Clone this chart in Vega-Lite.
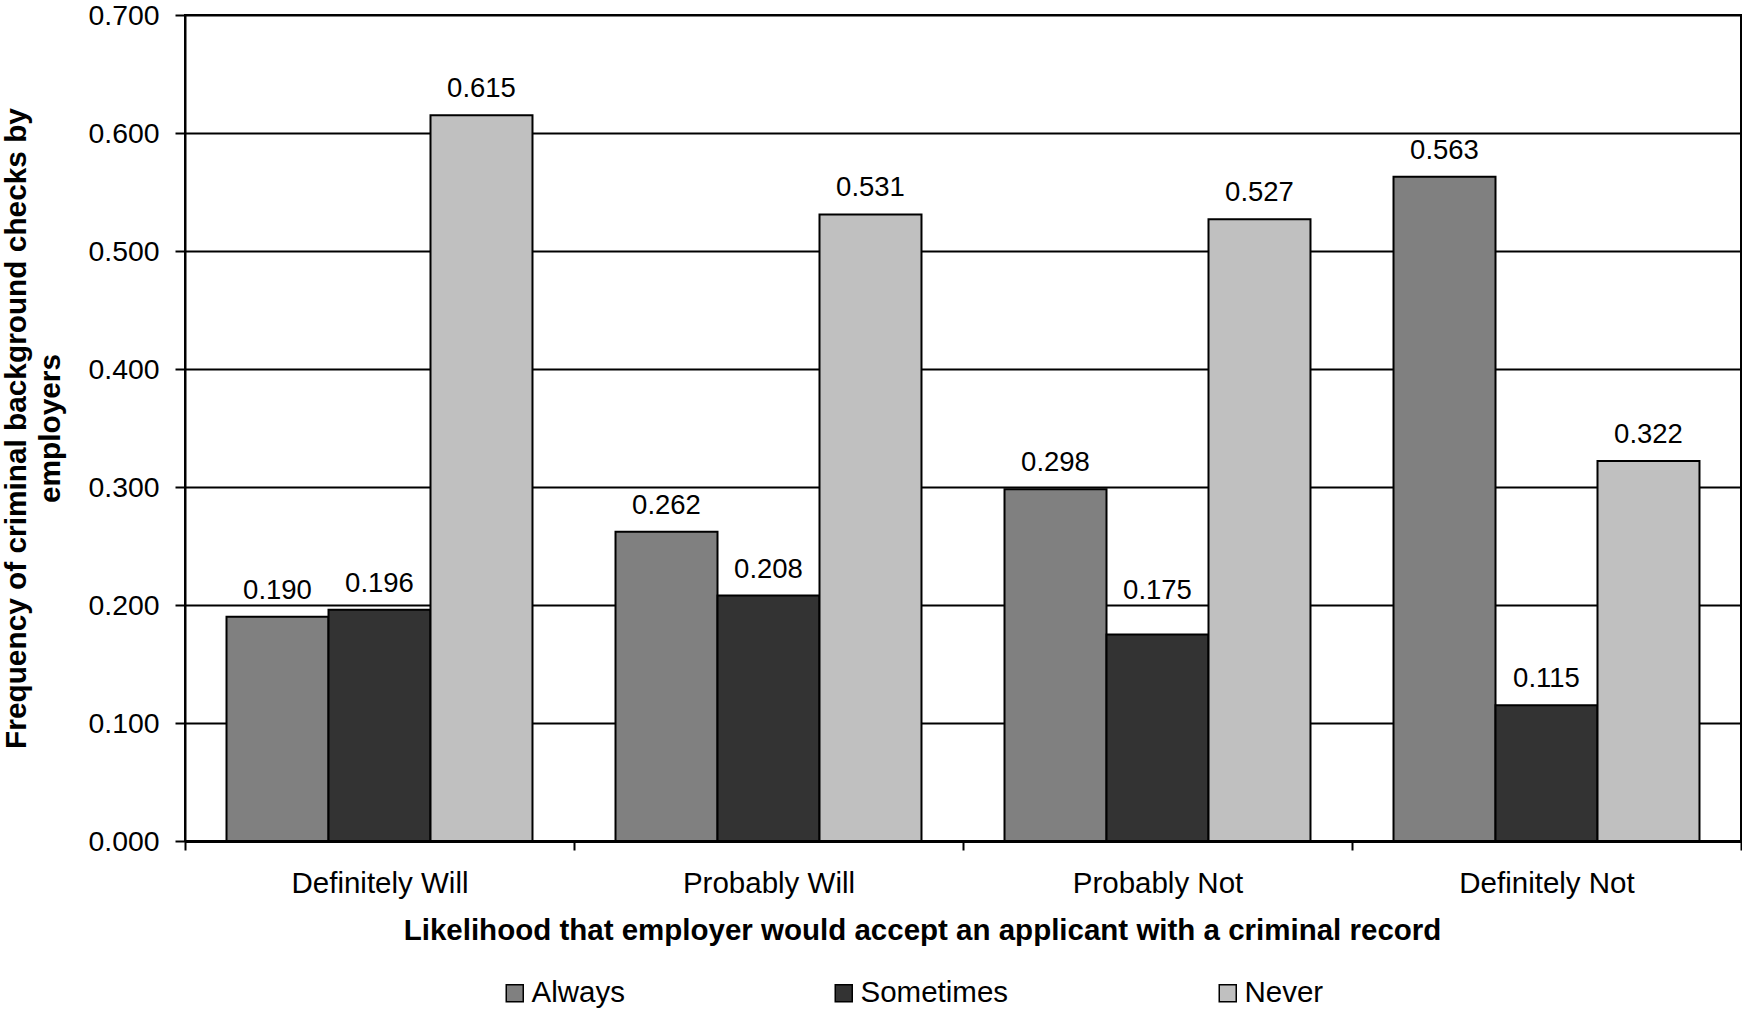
{
  "$schema": "https://vega.github.io/schema/vega-lite/v6.json",
  "width": 1556,
  "height": 826,
  "autosize": {"type": "none"},
  "padding": {"left": 185, "top": 15, "right": 1, "bottom": 170},
  "background": "white",
  "config": {
    "font": "Liberation Sans",
    "view": {"stroke": "black", "strokeWidth": 2}
  },
  "data": {
    "values": [
      {"likelihood": "Definitely Will", "frequency": "Always", "value": 0.190},
      {"likelihood": "Definitely Will", "frequency": "Sometimes", "value": 0.196},
      {"likelihood": "Definitely Will", "frequency": "Never", "value": 0.615},
      {"likelihood": "Probably Will", "frequency": "Always", "value": 0.262},
      {"likelihood": "Probably Will", "frequency": "Sometimes", "value": 0.208},
      {"likelihood": "Probably Will", "frequency": "Never", "value": 0.531},
      {"likelihood": "Probably Not", "frequency": "Always", "value": 0.298},
      {"likelihood": "Probably Not", "frequency": "Sometimes", "value": 0.175},
      {"likelihood": "Probably Not", "frequency": "Never", "value": 0.527},
      {"likelihood": "Definitely Not", "frequency": "Always", "value": 0.563},
      {"likelihood": "Definitely Not", "frequency": "Sometimes", "value": 0.115},
      {"likelihood": "Definitely Not", "frequency": "Never", "value": 0.322}
    ]
  },
  "encoding": {
    "x": {
      "field": "likelihood",
      "type": "nominal",
      "sort": ["Definitely Will", "Probably Will", "Probably Not", "Definitely Not"],
      "scale": {"paddingInner": 0, "paddingOuter": 0},
      "title": "Likelihood that employer would accept an applicant with a criminal record",
      "axis": {
        "labelAngle": 0,
        "labelFontSize": 29.5,
        "labelColor": "black",
        "labelPadding": 19,
        "domainColor": "black",
        "domainWidth": 3,
        "tickBand": "extent",
        "tickColor": "black",
        "tickSize": 9,
        "tickWidth": 2,
        "titleFontSize": 29.5,
        "titleFontWeight": "bold",
        "titleColor": "black",
        "titlePadding": 19,
        "titleX": 737,
        "titleAlign": "center",
        "titleAnchor": "start"
      }
    },
    "xOffset": {
      "field": "frequency",
      "type": "nominal",
      "sort": ["Always", "Sometimes", "Never"],
      "scale": {"paddingInner": 0, "paddingOuter": 0.407}
    },
    "y": {
      "field": "value",
      "type": "quantitative",
      "scale": {"domain": [0, 0.7]},
      "title": ["Frequency of criminal background checks by", "employers"],
      "axis": {
        "values": [0, 0.1, 0.2, 0.3, 0.4, 0.5, 0.6, 0.7],
        "format": ".3f",
        "grid": true,
        "gridColor": "black",
        "gridWidth": 2,
        "gridOpacity": 1,
        "domainColor": "black",
        "domainWidth": 2,
        "tickColor": "black",
        "tickSize": 10,
        "tickWidth": 2,
        "labelFontSize": 28.4,
        "labelColor": "black",
        "labelPadding": 16,
        "titleFontSize": 29.8,
        "titleFontWeight": "bold",
        "titleColor": "black",
        "titleLineHeight": 34,
        "titlePadding": 22
      }
    }
  },
  "layer": [
    {
      "mark": {"type": "bar", "stroke": "black", "strokeWidth": 2},
      "encoding": {
        "color": {
          "field": "frequency",
          "type": "nominal",
          "scale": {
            "domain": ["Always", "Sometimes", "Never"],
            "range": ["#808080", "#333333", "#c0c0c0"]
          },
          "legend": {
            "orient": "none",
            "direction": "horizontal",
            "legendX": 315,
            "legendY": 963,
            "title": null,
            "padding": 0,
            "symbolType": "square",
            "symbolSize": 289,
            "symbolStrokeColor": "black",
            "symbolStrokeWidth": 1.5,
            "symbolOpacity": 1,
            "labelFontSize": 29.5,
            "labelColor": "black",
            "labelOffset": 2,
            "columnPadding": 204
          }
        }
      }
    },
    {
      "transform": [{"filter": "!(datum.likelihood === 'Probably Not' && datum.frequency === 'Sometimes')"}],
      "mark": {"type": "text", "dy": -18, "baseline": "alphabetic", "fontSize": 27.5, "color": "black"},
      "encoding": {
        "text": {"field": "value", "type": "quantitative", "format": ".3f"}
      }
    },
    {
      "transform": [{"filter": "datum.likelihood === 'Probably Not' && datum.frequency === 'Sometimes'"}],
      "mark": {"type": "text", "dy": -36, "baseline": "alphabetic", "fontSize": 27.5, "color": "black"},
      "encoding": {
        "text": {"field": "value", "type": "quantitative", "format": ".3f"}
      }
    }
  ]
}
